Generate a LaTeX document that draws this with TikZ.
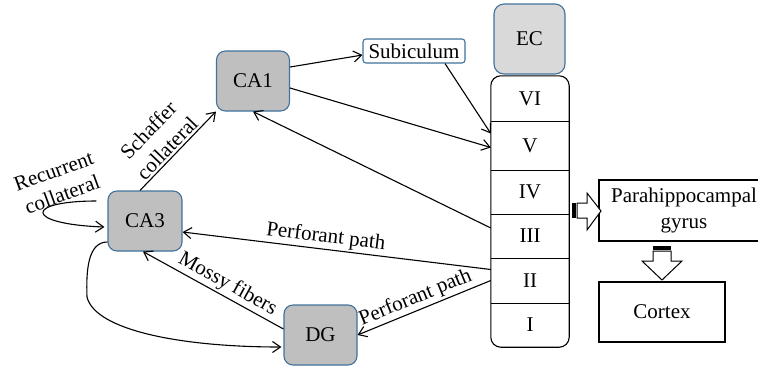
\documentclass[tikz,border=0pt]{standalone}
\usepackage{fontspec}
\setmainfont{Liberation Serif}
\usetikzlibrary{arrows.meta}
\definecolor{bordblue}{HTML}{41719C}
\definecolor{boxgray}{HTML}{BFBFBF}
\definecolor{ecgray}{HTML}{D9D9D9}
\begin{document}
\begin{tikzpicture}[x=1pt,y=-1pt,
  font=\fontsize{21}{24}\selectfont,
  region/.style={draw=bordblue, line width=1.1pt, fill=boxgray, rounded corners=9pt, minimum width=73pt, minimum height=60pt, inner sep=0pt},
  layer/.style={minimum width=78pt, inner sep=0pt},
  plainbox/.style={draw=black, line width=1.1pt, inner sep=0pt},
  conn/.style={line width=1.1pt, -{Straight Barb[length=8pt,width=11pt]}},
  lbl/.style={sloped, above, inner sep=2pt, align=center},
]
\useasboundingbox (0,0) rectangle (758,368);

% region boxes
\node[region] (CA1) at (253,81) {CA1};
\node[region, minimum width=74pt] (CA3) at (145,221) {CA3};
\node[region] (DG) at (320.5,335) {DG};
\node[region, fill=ecgray, minimum width=71pt, minimum height=70pt, rounded corners=10pt] (EC) at (529.5,39) {EC};
\node[draw=bordblue, line width=1.1pt, fill=white, rounded corners=3pt, minimum width=102pt, minimum height=24pt, inner sep=0pt] (Sub) at (414,51) {Subiculum};

% EC layers
\node[layer, minimum height=45pt] (VI) at (530,98.5) {VI};
\node[layer, minimum height=49pt] (V) at (530,145.5) {V};
\node[layer, minimum height=44pt] (IV) at (530,192) {IV};
\node[layer, minimum height=44pt] (III) at (530,236) {III};
\node[layer, minimum height=45pt] (II) at (530,280.5) {II};
\node[layer, minimum height=44pt] (I) at (530,325) {I};
\draw[line width=1.1pt, rounded corners=10pt] (VI.north west) rectangle (I.south east);
\foreach \n in {VI,V,IV,III,II}{
  \draw[line width=1.1pt] (\n.south west) -- (\n.south east);
}

% right side boxes
\node[plainbox, minimum width=170pt, minimum height=61pt, align=center, font=\fontsize{21}{26}\selectfont] (PHG) at (684,210.5) {Parahippocampal\\gyrus};
\node[plainbox, minimum width=126pt, minimum height=60pt] (Cortex) at (662,312) {Cortex};

% block arrows
\fill (572,203) rectangle (576,218);
\draw[line width=1pt, fill=white] (577,203) -- (587,203) -- (587,193) -- (601,211) -- (587,230) -- (587,218) -- (577,218) -- cycle;
\fill (653,246) rectangle (671,250);
\draw[line width=1pt, fill=white] (653,251) -- (671,251) -- (671,261) -- (682,261) -- (662,280) -- (642,261) -- (653,261) -- cycle;

% connectors
\draw[conn] ([xshift=-5pt]CA3.north) -- (CA1.south west) node[lbl, pos=0.45, font=\fontsize{21}{26}\selectfont] {Schaffer\\collateral};
\draw[conn] ([yshift=14pt]CA1.east) -- ([yshift=-4pt]Sub.west);
\draw[conn] ([xshift=31pt]Sub.south) -- ([yshift=12pt]V.west);
\draw[conn] ([yshift=-7pt]CA1.east) -- ([yshift=-2pt]V.west);
\draw[conn] ([yshift=8pt]III.west) -- (CA1.south);
\draw[conn] ([yshift=11pt]II.west) -- ([yshift=-11pt]CA3.east) node[lbl, pos=0.54] {Perforant path};
\draw[conn] (II.west) -- (DG.east) node[lbl, pos=0.53] {Perforant path};
\draw[conn] ([yshift=6pt]DG.west) -- ([xshift=-2pt]CA3.south) node[lbl, pos=0.44] {Mossy fibers};
\draw[conn] ([xshift=-11pt,yshift=20pt]CA3.west) .. controls (24,201) and (24,224) .. ([xshift=-3pt,yshift=-6pt]CA3.west);
\node[rotate=20, align=center, inner sep=0pt, font=\fontsize{21}{25}\selectfont] (reclbl) at (58,183) {Recurrent\\collateral};
\draw[conn] ([yshift=-21pt]CA3.west) .. controls (88,242) and (86,270) .. (87,297) .. controls (95,330) and (180,347) .. ([xshift=-2pt,yshift=-12pt]DG.west);
\end{tikzpicture}
\end{document}
